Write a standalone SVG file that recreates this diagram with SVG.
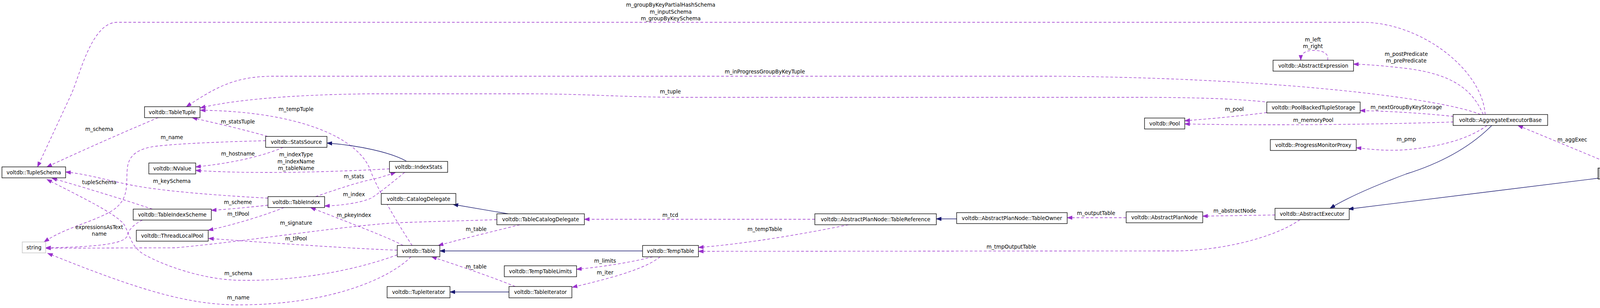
<svg xmlns="http://www.w3.org/2000/svg" width="4291" height="788" viewBox="0 0 4291 788">
<style>
text{font-family:"DejaVu Sans","Liberation Sans",sans-serif;font-size:13.33px;fill:#000;text-anchor:middle}
.n rect{fill:#fff;stroke:#000;stroke-width:1.33}
.n.u rect{stroke:#bfbfbf}
.n.c rect{fill:#bfbfbf;stroke:#000}
.e path{fill:none;stroke:#9a32cd;stroke-width:1.33;stroke-dasharray:7,5;marker-end:url(#ap)}
.e path.i{stroke:#191970;stroke-dasharray:none;marker-end:url(#an)}
</style>
<defs>
<marker id="ap" markerWidth="14" markerHeight="11" refX="13" refY="4.7" orient="auto" markerUnits="userSpaceOnUse"><path d="M0,0 L13,4.7 L0,9.4 z" fill="#9a32cd" stroke="#9a32cd" stroke-width="1"/></marker>
<marker id="an" markerWidth="14" markerHeight="11" refX="13" refY="4.7" orient="auto" markerUnits="userSpaceOnUse"><path d="M0,0 L13,4.7 L0,9.4 z" fill="#191970" stroke="#191970" stroke-width="1"/></marker>
</defs>
<rect x="0" y="0" width="4291" height="788" fill="#fff"/>
<g id="edges" class="e">
<path d="M3802,293 C3795,180 3640,57 3486,57 L300,57 C235,57 205,190 183,240 L96,427"/>
<path d="M3790,293 C3700,255 3300,200 2700,195 L700,195 C600,195 550,225 477,273"/>
<path d="M3250,262 C3150,250 3000,249 2900,249 L1750,249 C1600,249 1500,240 1350,240 L950,240 C750,242 600,255 513,276"/>
<path d="M1055,628 C1010,560 960,470 950,440 C920,350 760,285 513,282"/>
<path d="M405,301 C300,345 200,390 120,427"/>
<path d="M685,349 C620,330 550,315 492,301"/>
<path d="M680,360 C600,362 470,366 400,374 C355,380 330,395 326,430 C322,470 332,505 293,535 C250,565 170,580 113,619"/>
<path d="M725,377 C690,392 620,415 501,427"/>
<path d="M997,432 C850,440 650,446 501,436"/>
<path class="i" d="M1040,412 C1000,390 920,372 837,366"/>
<path d="M1036,441 C1000,470 970,495 950,507 C920,520 870,526 831,527"/>
<path d="M808,503 C860,485 920,465 957,458 C975,454 995,447 1013,441"/>
<path d="M686,507 C560,500 420,490 333,473 C270,460 220,445 168,440"/>
<path d="M686,525 C640,530 590,535 541,538"/>
<path d="M727,531 C680,550 600,575 533,589"/>
<path d="M390,535 C300,505 200,475 133,456"/>
<path d="M365,563 C340,575 328,590 325,605 C315,625 240,632 117,634"/>
<path d="M1272,562 C1150,566 1050,568 999,571 C850,582 650,615 450,634 L117,635"/>
<path d="M1017,652 C900,695 750,720 610,717 C520,715 420,680 367,650 C335,630 332,600 318,575 C300,548 200,500 120,459"/>
<path d="M1052,657 C1000,710 850,780 610,780 C480,780 350,740 122,648"/>
<path d="M1017,640 C900,636 700,622 534,610"/>
<path d="M1032,628 C1000,610 900,572 795,531"/>
<path d="M1331,575 C1250,595 1180,612 1122,628"/>
<path class="i" d="M1301,547 L1160,523"/>
<path class="i" d="M1645,642 L1126,642"/>
<path d="M1671,657 C1620,670 1550,682 1476,689"/>
<path d="M1690,657 C1650,690 1550,715 1465,735"/>
<path d="M1319,733 C1250,705 1160,675 1105,657"/>
<path class="i" d="M1303,747 L1152,747"/>
<path d="M2086,561 L1496,561"/>
<path d="M2172,575 C2050,600 1900,625 1788,633"/>
<path class="i" d="M2449,560 L2397,560"/>
<path d="M2883,557 L2732,557"/>
<path d="M3264,550 L3079,553"/>
<path d="M3328,562 C3260,610 3120,642 3006,642 L1788,643"/>
<path class="i" d="M3819,321 C3760,380 3680,420 3600,445 C3520,475 3450,505 3405,533"/>
<path class="i" d="M4091,456 L3452,535"/>
<path d="M4149,430 L3886,321"/>
<path d="M3807,321 C3760,355 3690,375 3600,383 C3550,387 3510,382 3472,378"/>
<path d="M3721,312 C3550,318 3250,322 3033,317"/>
<path d="M3243,288 C3150,300 3080,305 3033,309"/>
<path d="M3721,298 C3650,290 3550,284 3482,283"/>
<path d="M3797,293 C3770,230 3720,190 3600,175 C3540,168 3500,165 3465,164"/>
<path d="M3399,154 C3402,135 3385,129 3362,129 C3340,129 3330,138 3330,154"/>
</g>
<g id="labels">
<text x="1717" y="17">m_groupByKeyPartialHashSchema</text>
<text x="1717" y="34.5">m_inputSchema</text>
<text x="1717" y="52">m_groupByKeySchema</text>
<text x="1958" y="188">m_inProgressGroupByKeyTuple</text>
<text x="1716" y="239">m_tuple</text>
<text x="3361" y="106">m_left</text>
<text x="3361" y="123">m_right</text>
<text x="3600" y="143">m_postPredicate</text>
<text x="3600" y="160">m_prePredicate</text>
<text x="3600" y="279">m_nextGroupByKeyStorage</text>
<text x="3160" y="284">m_pool</text>
<text x="3362" y="312">m_memoryPool</text>
<text x="3600" y="361">m_pmp</text>
<text x="4025" y="362">m_aggExec</text>
<text x="3161" y="544">m_abstractNode</text>
<text x="2806" y="550">m_outputTable</text>
<text x="2589" y="636">m_tmpOutputTable</text>
<text x="1716" y="555">m_tcd</text>
<text x="1958" y="591">m_tempTable</text>
<text x="1549" y="672">m_limits</text>
<text x="1549" y="702">m_iter</text>
<text x="1219" y="687">m_table</text>
<text x="1219" y="591">m_table</text>
<text x="758" y="284">m_tempTuple</text>
<text x="609" y="316">m_statsTuple</text>
<text x="440" y="356">m_name</text>
<text x="609" y="398">m_hostname</text>
<text x="758" y="400">m_indexType</text>
<text x="758" y="418">m_indexName</text>
<text x="758" y="435">m_tableName</text>
<text x="906" y="456">m_stats</text>
<text x="906" y="502">m_index</text>
<text x="440" y="468">m_keySchema</text>
<text x="609" y="522">m_scheme</text>
<text x="610" y="552">m_tlPool</text>
<text x="906" y="555">m_pkeyIndex</text>
<text x="758" y="575">m_signature</text>
<text x="758" y="615">m_tlPool</text>
<text x="254" y="335">m_schema</text>
<text x="254" y="471">tupleSchema</text>
<text x="254" y="586">expressionsAsText</text>
<text x="254" y="603">name</text>
<text x="610" y="704">m_schema</text>
<text x="610" y="766">m_name</text>
</g>
<g id="n_TupleSchema" class="n"><rect x="5" y="427" width="163" height="28"/><text x="86.5" y="445.5">voltdb::TupleSchema</text></g>
<g id="n_string" class="n u"><rect x="57" y="619" width="60" height="28"/><text x="87" y="637.5">string</text></g>
<g id="n_TableTuple" class="n"><rect x="370" y="273" width="142" height="28"/><text x="441" y="291.5">voltdb::TableTuple</text></g>
<g id="n_NValue" class="n"><rect x="381" y="417" width="120" height="28"/><text x="441" y="435.5">voltdb::NValue</text></g>
<g id="n_TableIndexScheme" class="n"><rect x="341" y="535" width="200" height="28"/><text x="441" y="553.5">voltdb::TableIndexScheme</text></g>
<g id="n_ThreadLocalPool" class="n"><rect x="349" y="589" width="184" height="28"/><text x="441" y="607.5">voltdb::ThreadLocalPool</text></g>
<g id="n_StatsSource" class="n"><rect x="680" y="349" width="157" height="28"/><text x="758.5" y="367.5">voltdb::StatsSource</text></g>
<g id="n_TableIndex" class="n"><rect x="686" y="503" width="145" height="28"/><text x="758.5" y="521.5">voltdb::TableIndex</text></g>
<g id="n_IndexStats" class="n"><rect x="997" y="413" width="149" height="28"/><text x="1071.5" y="431.5">voltdb::IndexStats</text></g>
<g id="n_CatalogDelegate" class="n"><rect x="976" y="495" width="191" height="28"/><text x="1071.5" y="513.5">voltdb::CatalogDelegate</text></g>
<g id="n_TableCatalogDelegate" class="n"><rect x="1272" y="547" width="224" height="28"/><text x="1384" y="565.5">voltdb::TableCatalogDelegate</text></g>
<g id="n_Table" class="n"><rect x="1017" y="628" width="109" height="29"/><text x="1071.5" y="647">voltdb::Table</text></g>
<g id="n_TempTable" class="n"><rect x="1645" y="628" width="143" height="29"/><text x="1716.5" y="647">voltdb::TempTable</text></g>
<g id="n_TempTableLimits" class="n"><rect x="1291" y="680" width="185" height="28"/><text x="1383.5" y="698.5">voltdb::TempTableLimits</text></g>
<g id="n_TupleIterator" class="n"><rect x="991" y="733" width="161" height="29"/><text x="1071.5" y="752">voltdb::TupleIterator</text></g>
<g id="n_TableIterator" class="n"><rect x="1303" y="733" width="161" height="29"/><text x="1383.5" y="752">voltdb::TableIterator</text></g>
<g id="n_TableReference" class="n"><rect x="2086" y="547" width="311" height="28"/><text x="2241.5" y="565.5">voltdb::AbstractPlanNode::TableReference</text></g>
<g id="n_TableOwner" class="n"><rect x="2449" y="544" width="283" height="28"/><text x="2590.5" y="562.5">voltdb::AbstractPlanNode::TableOwner</text></g>
<g id="n_AbstractPlanNode" class="n"><rect x="2883" y="542" width="196" height="28"/><text x="2981" y="560.5">voltdb::AbstractPlanNode</text></g>
<g id="n_AbstractExecutor" class="n"><rect x="3264" y="533" width="190" height="29"/><text x="3359" y="552">voltdb::AbstractExecutor</text></g>
<g id="n_Pool" class="n"><rect x="2930" y="302" width="103" height="28"/><text x="2981.5" y="320.5">voltdb::Pool</text></g>
<g id="n_PoolBackedTupleStorage" class="n"><rect x="3243" y="261" width="239" height="28"/><text x="3362.5" y="279.5">voltdb::PoolBackedTupleStorage</text></g>
<g id="n_AbstractExpression" class="n"><rect x="3259" y="154" width="206" height="28"/><text x="3362" y="172.5">voltdb::AbstractExpression</text></g>
<g id="n_ProgressMonitorProxy" class="n"><rect x="3252" y="357" width="220" height="28"/><text x="3362" y="375.5">voltdb::ProgressMonitorProxy</text></g>
<g id="n_AggregateExecutorBase" class="n"><rect x="3720" y="293" width="242" height="28"/><text x="3841" y="311.5">voltdb::AggregateExecutorBase</text></g>
<g id="n_SeqScanExecutor" class="n c"><rect x="4091" y="430" width="194" height="28"/><text x="4188" y="448.5">voltdb::SeqScanExecutor</text></g>
</svg>
